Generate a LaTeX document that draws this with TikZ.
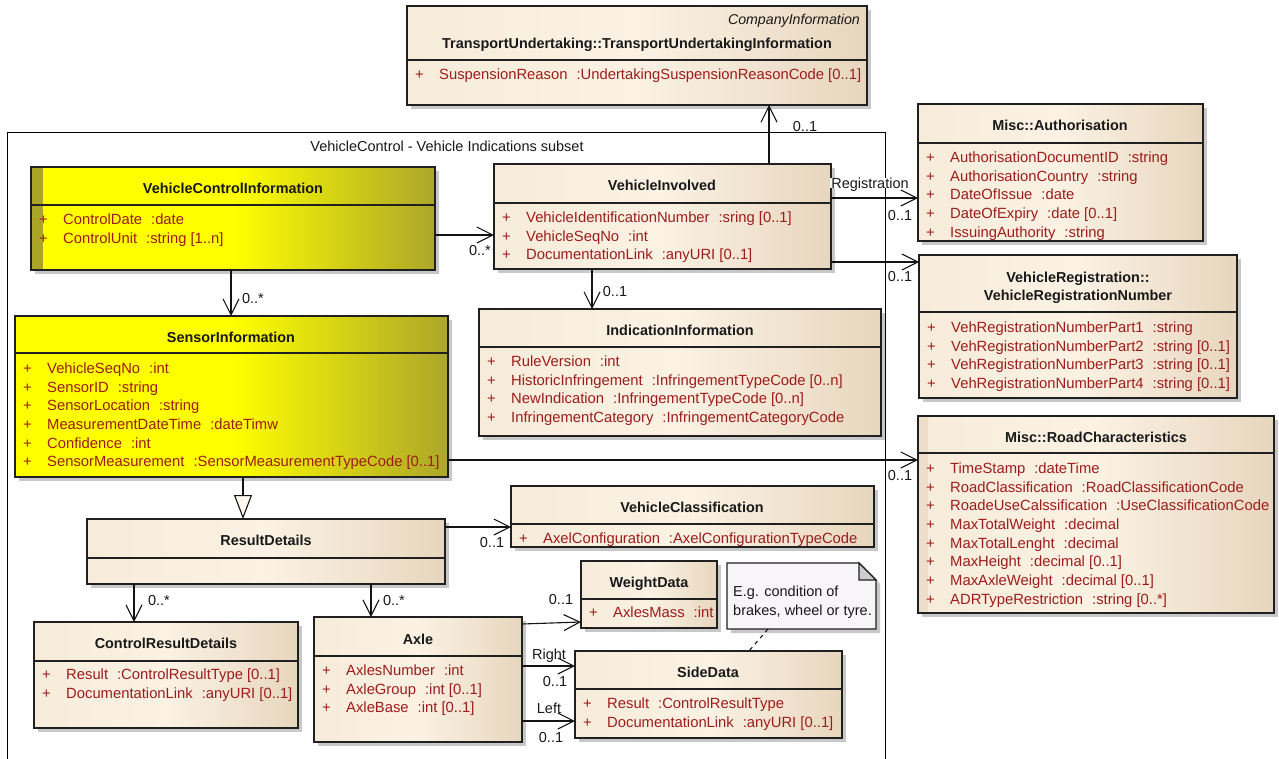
\documentclass[tikz,border=0pt]{standalone}
\usepackage{fontspec}
\setmainfont{Liberation Sans}
\usetikzlibrary{arrows.meta,shadows}

\definecolor{boxc}{RGB}{32,32,32}
\definecolor{linec}{RGB}{20,20,20}
\definecolor{attrred}{RGB}{158,28,28}
\definecolor{bgL}{RGB}{247,236,218}
\definecolor{bgM}{RGB}{251,242,228}
\definecolor{bgR}{RGB}{231,214,190}
\definecolor{yL}{RGB}{255,255,0}
\definecolor{yR}{RGB}{172,166,42}
\definecolor{ystripe}{RGB}{170,164,40}
\definecolor{bstripe}{RGB}{236,222,200}
\definecolor{shadowc}{RGB}{200,200,200}
\definecolor{genfill}{RGB}{255,248,240}
\definecolor{notefill}{RGB}{248,245,248}
\definecolor{foldc}{RGB}{205,205,210}

% class box: name, style, left, top, right, bottom, separator y
\newcommand\umlclass[7]{%
  \node[#2, minimum width={#5-#3}, minimum height={#6-#4}] (#1) at (#3,#4) {};
  \draw[boxc, line width=1.2pt] (#1.west |- 0,#7) -- (#1.east |- 0,#7);
}
% attribute list: prefix, box left, first line y, {name}/{type} items
\newcommand\attrlist[4]{%
  \foreach \attname/\atttype [count=\i] in {#4}{
    \node[attr] (#1-a\i) at ({#2+8},{#3+(\i-1)*18.7})
      {\makebox[24pt][l]{+}\attname\hspace{9pt}\atttype};
  }%
}

\begin{document}
\begin{tikzpicture}[x=1pt, y={(0pt,-1pt)},
  box/.style={draw=boxc, line width=1.2pt, inner sep=0pt, outer sep=0pt,
    anchor=north west,
    drop shadow={shadow xshift=4pt, shadow yshift=-4pt, fill=shadowc, opacity=1}},
  beige/.style={box, left color=bgL, right color=bgR, middle color=bgM},
  yellowbox/.style={box, left color=yL, right color=yR, middle color=yL},
  ystriped/.style={yellowbox, path picture={\fill[ystripe]
    (path picture bounding box.north west) rectangle
    ([xshift=12pt]path picture bounding box.south west);}},
  bstriped/.style={beige, path picture={\fill[bstripe]
    (path picture bounding box.north west) rectangle
    ([xshift=10pt]path picture bounding box.south west);}},
  title/.style={font=\fontsize{14.4}{17}\selectfont\bfseries, text=black!90,
    inner sep=0pt, text height=10.3pt, text depth=0pt, anchor=center},
  attr/.style={font=\fontsize{14.8}{18}\selectfont, text=attrred,
    inner sep=0pt, text height=10.6pt, text depth=0pt, anchor=west},
  mult/.style={font=\fontsize{14.5}{17}\selectfont, text=black!90,
    inner sep=0pt, text height=10.4pt, text depth=0pt, anchor=center},
  assoc/.style={draw=linec, line width=1.1pt,
    -{Straight Barb[length=16pt,width=16pt]}},
  gen/.style={draw=linec, line width=1.1pt,
    -{Triangle[length=24pt,width=18pt,fill=genfill]}},
  notelink/.style={draw=linec, line width=1.1pt, dash pattern=on 4pt off 4pt},
]
\fill[white] (0,0) rectangle (1279,758);
\useasboundingbox (0,0) rectangle (1279,758);

% package frame
\draw[black, line width=1pt] (7,760) -- (7,132) -- (885,132) -- (885,760);
\node[mult] (pkg) at (447,146) {VehicleControl - Vehicle Indications subset};

% ---- classes ----
\umlclass{tu}{beige}{407}{6}{867}{105}{60}
\node[mult, anchor=east, font=\fontsize{14.2}{17}\selectfont\itshape] (tu-s) at (860,19) {CompanyInformation};
\node[title] (tu-t) at (637,43) {TransportUndertaking::TransportUndertakingInformation};
\attrlist{tu}{407}{74}{{SuspensionReason}/{:UndertakingSuspensionReasonCode [0..1]}}

\umlclass{vci}{ystriped}{31}{167}{435}{270}{205}
\node[title] (vci-t) at (233,188) {VehicleControlInformation};
\attrlist{vci}{31}{219}{{ControlDate}/{:date},{ControlUnit}/{:string [1..n]}}

\umlclass{vi}{beige}{494}{164}{831}{269}{203}
\node[title] (vi-t) at (662,185) {VehicleInvolved};
\attrlist{vi}{494}{217}{{VehicleIdentificationNumber}/{:sring [0..1]},{VehicleSeqNo}/{:int},{DocumentationLink}/{:anyURI [0..1]}}

\umlclass{auth}{beige}{918}{104}{1203}{241}{143}
\node[title] (auth-t) at (1060,125) {Misc::Authorisation};
\attrlist{auth}{918}{157}{{AuthorisationDocumentID}/{:string},{AuthorisationCountry}/{:string},{DateOfIssue}/{:date},{DateOfExpiry}/{:date [0..1]},{IssuingAuthority}/{:string}}

\umlclass{vrn}{beige}{919}{255}{1237}{398}{312}
\node[title] (vrn-t1) at (1078,277) {VehicleRegistration::};
\node[title] (vrn-t2) at (1078,295) {VehicleRegistrationNumber};
\attrlist{vrn}{919}{327}{{VehRegistrationNumberPart1}/{:string},{VehRegistrationNumberPart2}/{:string [0..1]},{VehRegistrationNumberPart3}/{:string [0..1]},{VehRegistrationNumberPart4}/{:string [0..1]}}

\umlclass{ii}{beige}{479}{309}{881}{436}{347}
\node[title] (ii-t) at (680,330) {IndicationInformation};
\attrlist{ii}{479}{361}{{RuleVersion}/{:int},{HistoricInfringement}/{:InfringementTypeCode [0..n]},{NewIndication}/{:InfringementTypeCode [0..n]},{InfringementCategory}/{:InfringementCategoryCode}}

\umlclass{si}{yellowbox}{15}{316}{448}{477}{353}
\node[title] (si-t) at (231,337) {SensorInformation};
\attrlist{si}{15}{368}{{VehicleSeqNo}/{:int},{SensorID}/{:string},{SensorLocation}/{:string},{MeasurementDateTime}/{:dateTimw},{Confidence}/{:int},{SensorMeasurement}/{:SensorMeasurementTypeCode [0..1]}}

\umlclass{rc}{bstriped}{918}{416}{1274}{613}{453}
\node[title] (rc-t) at (1096,437) {Misc::RoadCharacteristics};
\attrlist{rc}{918}{468}{{TimeStamp}/{:dateTime},{RoadClassification}/{:RoadClassificationCode},{RoadeUseCalssification}/{:UseClassificationCode},{MaxTotalWeight}/{:decimal},{MaxTotalLenght}/{:decimal},{MaxHeight}/{:decimal [0..1]},{MaxAxleWeight}/{:decimal [0..1]},{ADRTypeRestriction}/{:string [0..*]}}

\umlclass{rd}{beige}{87}{519}{445}{584}{558}
\node[title] (rd-t) at (266,540) {ResultDetails};

\umlclass{vc}{beige}{511}{486}{874}{547}{524}
\node[title] (vc-t) at (692,507) {VehicleClassification};
\attrlist{vc}{511}{538}{{AxelConfiguration}/{:AxelConfigurationTypeCode}}

\umlclass{crd}{beige}{34}{622}{298}{728}{661}
\node[title] (crd-t) at (166,643) {ControlResultDetails};
\attrlist{crd}{34}{674}{{Result}/{:ControlResultType [0..1]},{DocumentationLink}/{:anyURI [0..1]}}

\umlclass{axle}{beige}{314}{617}{522}{742}{656}
\node[title] (axle-t) at (418,639) {Axle};
\attrlist{axle}{314}{670}{{AxlesNumber}/{:int},{AxleGroup}/{:int [0..1]},{AxleBase}/{:int [0..1]}}

\umlclass{wd}{beige}{581}{561}{717}{628}{599}
\node[title] (wd-t) at (649,582) {WeightData};
\attrlist{wd}{581}{612}{{AxlesMass}/{:int}}

\umlclass{sd}{beige}{575}{651}{842}{738}{689}
\node[title] (sd-t) at (708,672) {SideData};
\attrlist{sd}{575}{703}{{Result}/{:ControlResultType},{DocumentationLink}/{:anyURI [0..1]}}

% note with folded corner
\node[inner sep=0pt, outer sep=0pt, anchor=north west, minimum width=149pt, minimum height=66pt] (note) at (727,563) {};
\fill[shadowc] ([xshift=4pt,yshift=-4pt]note.north west) -- ([xshift=-13pt,yshift=-4pt]note.north east)
  -- ([xshift=4pt,yshift=-21pt]note.north east) -- ([xshift=4pt,yshift=-4pt]note.south east)
  -- ([xshift=4pt,yshift=-4pt]note.south west) -- cycle;
\draw[boxc, line width=1.2pt, fill=notefill] (note.north west) -- ([xshift=-17pt]note.north east)
  -- ([yshift=-17pt]note.north east) -- (note.south east) -- (note.south west) -- cycle;
\draw[boxc, line width=1.2pt, fill=foldc] ([xshift=-17pt]note.north east)
  -- ([xshift=-17pt,yshift=-17pt]note.north east) -- ([yshift=-17pt]note.north east) -- cycle;
\node[mult, anchor=west] (note-l1) at (733,591) {E.g. condition of};
\node[mult, anchor=west] (note-l2) at (733,610) {brakes, wheel or tyre.};

% ---- connectors ----
\draw[assoc] (vci.east |- 0,235) -- (vi.west |- 0,235);
\node[mult] (m1) at (480,250) {0..*};

\draw[assoc] (vi.north -| 769,0) -- (tu.south -| 769,0);
\node[mult] (m2) at (805,126) {0..1};

\draw[assoc] (vi.east |- 0,198) -- (auth.west |- 0,198);
\node[mult, fill=white, inner xsep=1pt] (l-reg) at (870,183) {Registration};
\node[mult] (m3) at (900,215) {0..1};

\draw[assoc] (vi.east |- 0,262) -- (vrn.west |- 0,262);
\node[mult] (m4) at (900,276) {0..1};

\draw[assoc] (vi.south -| 592,0) -- (ii.north -| 592,0);
\node[mult] (m5) at (615,291) {0..1};

\draw[assoc] (vci.south -| 231,0) -- (si.north -| 231,0);
\node[mult] (m6) at (253,298) {0..*};

\draw[assoc] (si.east |- 0,460) -- (rc.west |- 0,460);
\node[mult] (m7) at (900,475) {0..1};

\draw[gen] (si.south -| 243,0) -- (rd.north -| 243,0);

\draw[assoc] (rd.east |- 0,527) -- (vc.west |- 0,527);
\node[mult] (m8) at (492,542) {0..1};

\draw[assoc] (rd.south -| 134,0) -- (crd.north -| 134,0);
\node[mult] (m9) at (159,600) {0..*};

\draw[assoc] (rd.south -| 371,0) -- (axle.north -| 371,0);
\node[mult] (m10) at (394,600) {0..*};

\draw[assoc] (axle.east |- 0,624) -- (wd.west |- 0,622);
\node[mult] (m11) at (561,599) {0..1};

\draw[assoc] (axle.east |- 0,666) -- (sd.west |- 0,666);
\node[mult] (l-right) at (549,654) {Right};
\node[mult] (m12) at (555,681) {0..1};

\draw[assoc] (axle.east |- 0,721) -- (sd.west |- 0,721);
\node[mult] (l-left) at (549,708) {Left};
\node[mult] (m13) at (551,737) {0..1};

\draw[notelink] (note.south -| 768,0) -- (sd.north -| 749,0);
\end{tikzpicture}
\end{document}
